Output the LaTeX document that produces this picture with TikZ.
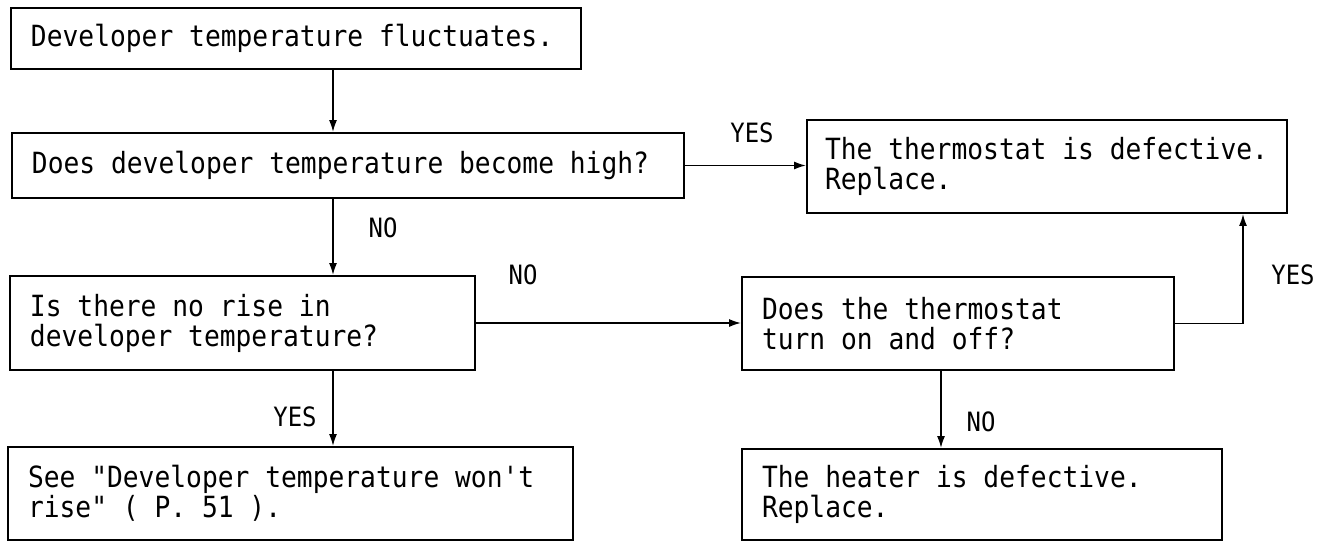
\documentclass[tikz,border=0pt]{standalone}
\usepackage{fontspec}
\setmonofont[FakeStretch=0.9]{DejaVu Sans Mono}
\usetikzlibrary{arrows.meta}
\frenchspacing
\newcommand\boxfont{\ttfamily\fontsize{14.6}{15}\selectfont
  \spaceskip=\fontcharwd\font`\x\relax}
\begin{document}
\begin{tikzpicture}[
    x=0.5pt, y=-0.5pt,
    font=\boxfont,
    box/.style={rectangle, draw, line width=0.9pt, inner xsep=10pt,
      inner ysep=0pt, align=flush left},
    arr/.style={line width=0.9pt, -{Latex[length=6pt,width=4pt]}},
    lab/.style={font=\ttfamily\fontsize{13.3}{14}\selectfont, inner sep=0pt}]
  \useasboundingbox (0,0) rectangle (1329,542);
  % boxes
  \node[box, text width=265pt, minimum height=30.5pt] (fluct) at (296,38.5)
    {Developer temperature fluctuates.};
  \node[box, text width=316pt, minimum height=32.5pt] (high) at (348,165.5)
    {Does developer temperature become high?};
  \node[box, inner xsep=9pt, text width=222pt, minimum height=46.5pt] (thermo) at (1047,166.5)
    {The thermostat is defective.\\Replace.};
  \node[box, text width=212.5pt, minimum height=47pt] (norise) at (242.5,323)
    {Is there no rise in\\developer temperature?};
  \node[box, text width=196pt, minimum height=46.5pt] (onoff) at (958,323.5)
    {Does the thermostat\\turn on and off?};
  \node[box, text width=262.5pt, minimum height=46.5pt] (seep) at (290.5,493.5)
    {See "Developer temperature won't\\rise" ( P. 51 ).};
  \node[box, text width=220pt, minimum height=45.5pt] (heater) at (982,494.5)
    {The heater is defective.\\Replace.};
  % columns of the vertical connectors
  \coordinate (colA) at (333,0);
  \coordinate (colB) at (941,0);
  \coordinate (colC) at (1243,0);
  % connectors
  \draw[arr] (colA |- fluct.south) -- (colA |- high.north);
  \draw[arr] (high.east) -- (high.east -| thermo.west);
  \draw[arr] (colA |- high.south) -- (colA |- norise.north);
  \draw[arr] (norise.east) -- (norise.east -| onoff.west);
  \draw[arr] (onoff.east) -| (colC |- thermo.south);
  \draw[arr] (colA |- norise.south) -- (colA |- seep.north);
  \draw[arr] (colB |- onoff.south) -- (colB |- heater.north);
  % answers
  \node[lab] (yes1) at (752,133) {YES};
  \node[lab] (no1)  at (383,228) {NO};
  \node[lab] (no2)  at (523,275) {NO};
  \node[lab] (yes2) at (1293,275) {YES};
  \node[lab] (yes3) at (295,417) {YES};
  \node[lab] (no3)  at (981,422) {NO};
\end{tikzpicture}
\end{document}
